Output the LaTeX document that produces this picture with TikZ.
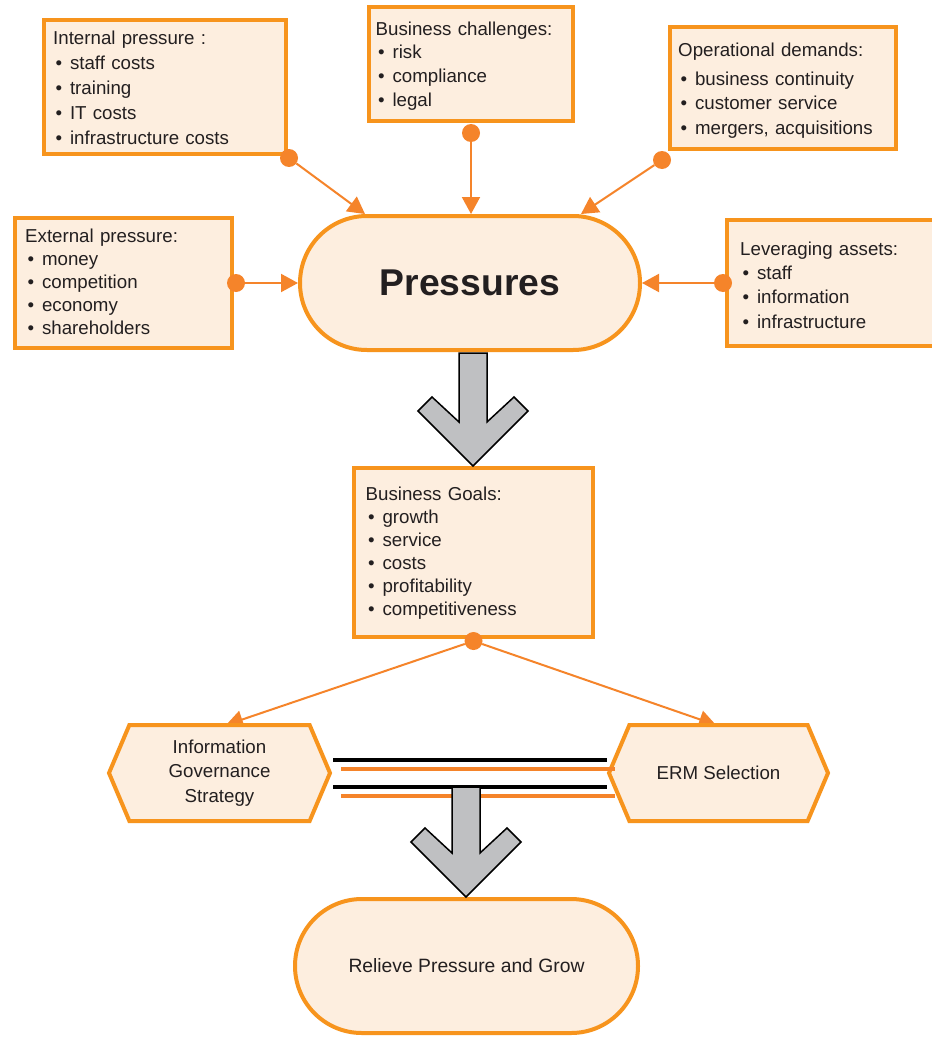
\documentclass[tikz,border=0pt]{standalone}
\usepackage{fontspec}
\setmainfont{Liberation Sans}
\usetikzlibrary{arrows.meta,shapes.symbols,calc,backgrounds}
\definecolor{obord}{HTML}{F7941D}
\definecolor{ofill}{HTML}{FDEEDF}
\definecolor{oline}{HTML}{F5842A}
\definecolor{agray}{HTML}{BFC0C2}
\definecolor{txt}{HTML}{231F20}
\newcommand\bl{\hspace*{2.5pt}\textbullet\hspace{7.8pt}}
\begin{document}
\begin{tikzpicture}[x=1pt,y=-1pt,
  box/.style={draw=obord,fill=ofill,line width=4pt,inner sep=0pt,rectangle},
  stadium/.style={box,rounded corners=66.9pt,text=txt},
  hexa/.style={draw=obord,fill=ofill,line width=4pt,inner sep=0pt,signal,signal to=west and east,signal pointer angle=134,minimum height=96pt,align=center,text=txt,font=\fontsize{18.7}{24.5}\selectfont},
  lbl/.style={anchor=north west,inner sep=0pt,align=left,text width=240pt,text=txt},
  dot/.style={circle,fill=oline,inner sep=0pt,minimum size=18pt},
  conn/.style={draw=oline,line width=2pt,-{Triangle[length=17pt,width=18pt]}},
  bigarrow/.style={fill=agray,draw=black,line width=1.5pt,line join=miter},
  rail/.style={line width=4pt,draw=black},
  orail/.style={line width=3.3pt,draw=oline},
]
\useasboundingbox (0,0) rectangle (931,1038);

% boxes
\node[box,minimum width=242pt,minimum height=134pt] (int) at (165,87) {};
\node[box,minimum width=204pt,minimum height=114pt] (bc) at (471,64) {};
\node[box,minimum width=226pt,minimum height=122pt] (op) at (783,88) {};
\node[box,minimum width=217pt,minimum height=130pt] (ext) at (123.5,283) {};
\node[box,minimum width=208pt,minimum height=126pt] (lev) at (831,283) {};
\node[box,minimum width=239pt,minimum height=169pt] (bg) at (473.5,552.5) {};
\node[stadium,minimum width=340pt,minimum height=134pt,font=\fontsize{37.3}{40}\selectfont\bfseries] (P) at (470,283) {Pressures};
\node[stadium,minimum width=343pt,minimum height=134pt,font=\fontsize{19.3}{24}\selectfont] (R) at (466.5,966) {Relieve Pressure and Grow};
\node[hexa,minimum width=221pt] (IG) at (219.5,773) {Information\\Governance\\Strategy};
\node[hexa,minimum width=219pt] (ERM) at (718.5,773) {ERM Selection};

% texts
\node[lbl,font=\fontsize{18.7}{25}\selectfont] (int-t) at (53,26.5) {\strut Internal pressure :\\ \bl staff costs\\ \bl training\\ \bl IT costs\\ \bl infrastructure costs};
\node[lbl,font=\fontsize{18.7}{23.7}\selectfont] (bc-t) at (375.5,18.4) {\strut Business challenges:\\ \bl risk\\ \bl compliance\\ \bl legal};
\node[lbl,font=\fontsize{18.7}{24.5}\selectfont] (op-t) at (678,38.85) {\strut Operational demands:\\[4.5pt] \bl business continuity\\ \bl customer service\\ \bl mergers, acquisitions};
\node[lbl,font=\fontsize{18.7}{23}\selectfont] (ext-t) at (25,226.4) {\strut External pressure:\\ \bl money\\ \bl competition\\ \bl economy\\ \bl shareholders};
\node[lbl,font=\fontsize{18.7}{24.3}\selectfont] (lev-t) at (740,238) {\strut Leveraging assets:\\ \bl staff\\ \bl information\\ \bl infrastructure};
\node[lbl,font=\fontsize{18.7}{23}\selectfont] (bg-t) at (365.5,483.9) {\strut Business Goals:\\ \bl growth\\ \bl service\\ \bl costs\\ \bl profitability\\ \bl competitiveness};

% dots
\node[dot] (dint) at ([xshift=1pt,yshift=-2pt]int.south east) {};
\node[dot] (dbc) at ([yshift=-10pt]bc.south) {};
\node[dot] (dop) at ([xshift=-6pt,yshift=-9pt]op.south west) {};
\node[dot] (dext) at ([xshift=2pt]ext.east) {};
\node[dot] (dlev) at ([xshift=-2pt]lev.west) {};
\node[dot] (dbg) at ([yshift=-2pt]bg.south) {};

% connectors (behind shapes)
\begin{scope}[on background layer]
\fill[white] (0,0) rectangle (931,1038);
\draw[conn] (dint) -- ($(P.north)+(-105,0)$);
\draw[conn] (dbc) -- (dbc |- P.north);
\draw[conn] (dop) -- ($(P.north)+(111,0)$);
\draw[conn] (dext) -- (P.west);
\draw[conn] (dlev) -- (P.east);
\draw[conn] (dbg) -- ($(IG.north)+(6.5,2)$);
\draw[conn] (dbg) -- ($(ERM.north)+(-2.5,2)$);
\end{scope}

% rails between IG and ERM
\draw[rail] (333,760) -- (607,760);
\draw[orail] (341,769) -- (615,769);
\draw[rail] (333,787) -- (607,787);
\draw[orail] (341,796) -- (615,796);

% big gray arrows
\draw[bigarrow] (459,353) -- (487,353) -- (487,422) -- (514,397) -- (528,411) -- (473,466) -- (418,411) -- (432,397) -- (459,422) -- cycle;
\draw[bigarrow] (452,787) -- (480,787) -- (480,853) -- (507,828) -- (521,842) -- (466,897) -- (411,842) -- (425,828) -- (452,853) -- cycle;
\end{tikzpicture}
\end{document}
